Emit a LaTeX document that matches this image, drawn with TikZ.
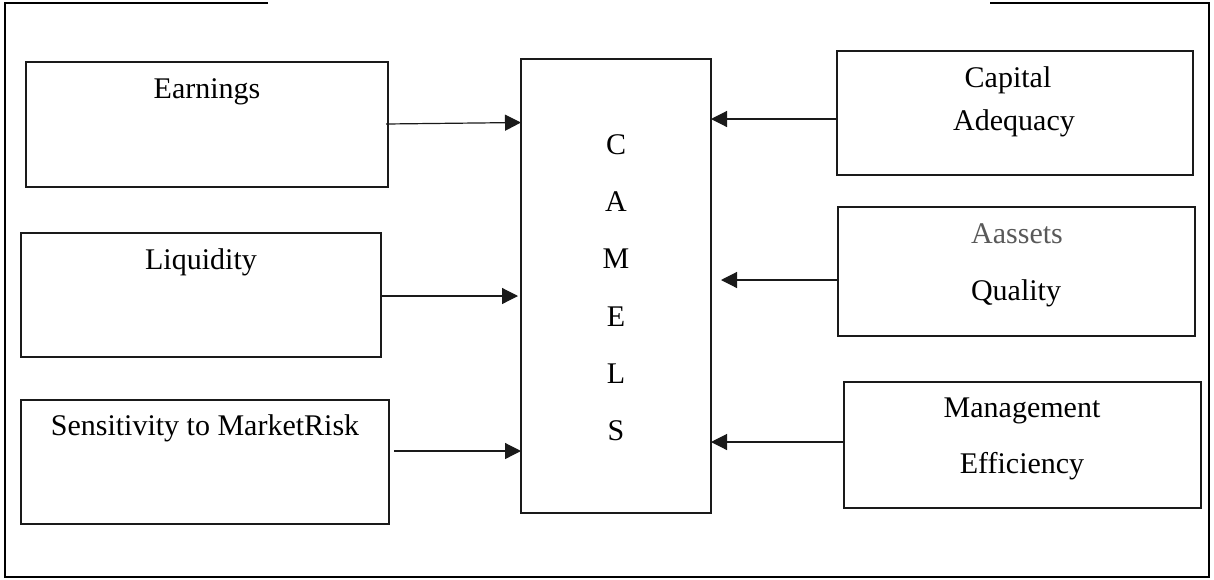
\documentclass[tikz,border=0pt]{standalone}
\usepackage{fontspec}
\setmainfont{Liberation Serif}
\usetikzlibrary{arrows.meta}
\definecolor{linegray}{HTML}{1A1A1A}
\definecolor{textgray}{HTML}{595959}
\tikzset{
  box/.style={draw=linegray, line width=1.3pt, rectangle, inner sep=0pt, fill=none},
  lbl/.style={anchor=base, inner sep=0pt, font=\fontsize{30}{35}\selectfont},
  arr/.style={line width=1.2pt, draw=linegray, -{Triangle[length=16pt,width=16pt]}},
  frame/.style={line width=2.4pt, draw=black}
}
\begin{document}
\begin{tikzpicture}[x=1pt,y=-1pt]
\useasboundingbox (0,0) rectangle (1214,579);
% outer frame with gap at top
\coordinate (f1) at (268,3);
\coordinate (f2) at (5,3);
\coordinate (f3) at (5,577);
\coordinate (f4) at (1209,577);
\coordinate (f5) at (1209,3);
\coordinate (f6) at (990,3);
\draw[frame] (f1) -- (f2) -- (f3) -- (f4) -- (f5) -- (f6);

% boxes
\node[box, minimum width=362pt, minimum height=125pt] (earn) at (207,124.5) {};
\node[box, minimum width=360pt, minimum height=124pt] (liq) at (201,295) {};
\node[box, minimum width=368pt, minimum height=124pt] (sens) at (205,462) {};
\node[box, minimum width=190pt, minimum height=454pt] (camels) at (616,286) {};
\node[box, minimum width=356pt, minimum height=124pt] (cap) at (1015,113) {};
\node[box, minimum width=357pt, minimum height=129pt] (ass) at (1016.5,271.5) {};
\node[box, minimum width=357pt, minimum height=126pt] (man) at (1022.5,445) {};

% labels
\node[lbl] (tearn) at (207,98) {Earnings};
\node[lbl] (tliq) at (201,269) {Liquidity};
\node[lbl] (tsens) at (205,435) {Sensitivity to MarketRisk};
\node[lbl] (tcap1) at (1008,87) {Capital};
\node[lbl] (tcap2) at (1014,130) {Adequacy};
\node[lbl, text=textgray] (tass1) at (1017,243) {Aassets};
\node[lbl] (tass2) at (1016,300) {Quality};
\node[lbl] (tman1) at (1022,417) {Management};
\node[lbl] (tman2) at (1022,473) {Efficiency};
\node[lbl] (tc) at (616,154) {C};
\node[lbl] (ta) at (616,211.5) {A};
\node[lbl] (tm) at (616,268.8) {M};
\node[lbl] (te) at (616,326) {E};
\node[lbl] (tl) at (616,383.4) {L};
\node[lbl] (ts) at (616,440.6) {S};

% arrow end points
\coordinate (a1s) at (386,124);
\coordinate (a1e) at (521,122.5);
\coordinate (a2s) at (381,296);
\coordinate (a2e) at (518,296);
\coordinate (a3s) at (394,451);
\coordinate (a3e) at (521,451);
\coordinate (b1s) at (837,119);
\coordinate (b1e) at (711,119);
\coordinate (b2s) at (838,280);
\coordinate (b2e) at (721,280);
\coordinate (b3s) at (844,442);
\coordinate (b3e) at (711,442);

\draw[arr] (a1s) -- (a1e);
\draw[arr] (a2s) -- (a2e);
\draw[arr] (a3s) -- (a3e);
\draw[arr] (b1s) -- (b1e);
\draw[arr] (b2s) -- (b2e);
\draw[arr] (b3s) -- (b3e);
\end{tikzpicture}
\end{document}
